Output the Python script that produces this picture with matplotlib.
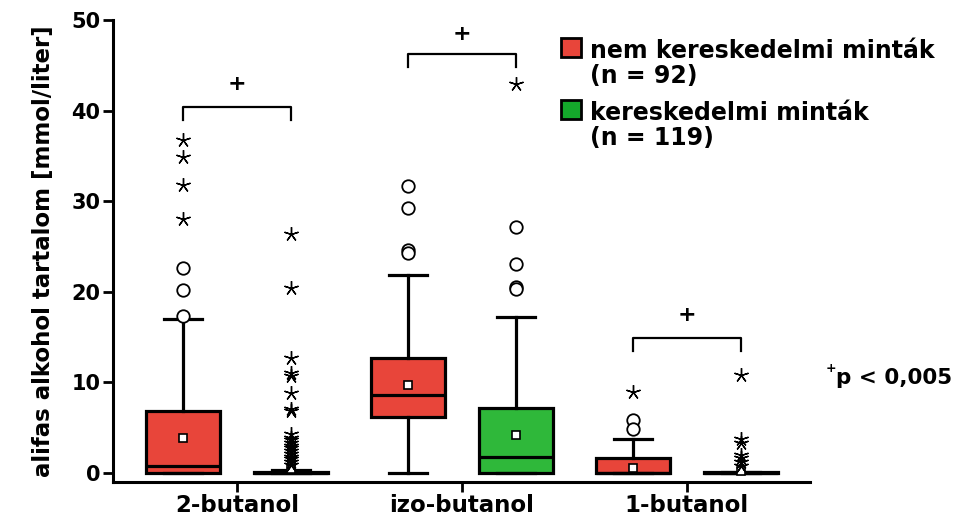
import matplotlib
matplotlib.use("Agg")
import matplotlib.pyplot as plt
from matplotlib.patches import Rectangle

# ---- data ----
groups = ["2-butanol", "izo-butanol", "1-butanol"]
legend_labels = ["nem kereskedelmi minták\n(n = 92)",
                 "kereskedelmi minták\n(n = 119)"]

# nem kereskedelmi minták (n = 92)
red_q1 = [0.0, 6.2, 0.0]
red_med = [0.8, 8.6, 0.0]
red_q3 = [6.8, 12.7, 1.6]
red_lo = [0.0, 0.0, 0.0]
red_hi = [17.0, 21.9, 3.8]
red_mean = [3.9, 9.7, 0.6]
red_circles = [[22.6, 20.2, 17.3], [31.7, 29.2, 24.6, 24.3], [5.8, 4.8]]
red_stars = [[36.8, 34.9, 31.8, 28.0], [], [8.9]]

# kereskedelmi minták (n = 119)
grn_q1 = [0.0, 0.0, 0.0]
grn_med = [0.0, 1.8, 0.0]
grn_q3 = [0.1, 7.2, 0.05]
grn_lo = [0.0, 0.0, 0.0]
grn_hi = [0.35, 17.2, 0.05]
grn_mean = [0.45, 4.2, 0.25]
grn_circles = [[], [27.2, 23.1, 20.5, 20.3], []]
grn_stars = [[26.4, 20.4, 12.7, 11.0, 10.7, 8.8, 7.1, 6.8, 4.3, 3.9, 3.6,
              3.3, 3.0, 2.7, 2.4, 2.1, 1.8, 1.5, 1.2, 0.9],
             [42.9],
             [10.8, 3.7, 3.3, 2.0, 1.6, 1.2, 0.8]]

# significance brackets (+ p < 0,005)
bracket_y = [40.4, 46.2, 14.9]
plus_y = [42.9, 48.5, 17.4]

RED = "#e8453a"
GREEN = "#2fb83a"
LEG_GREEN = "#14a82b"
INK = "black"
FONT = "DejaVu Sans"

plt.rcParams["font.family"] = FONT
plt.rcParams["font.weight"] = "bold"

fig = plt.figure(figsize=(9.56, 5.16), dpi=100)
ax = fig.add_axes([0.1182, 0.0659, 0.729, 0.8953])

off = 0.24
bw = 0.33
pos_r = [i - off for i in range(len(groups))]
pos_g = [i + off for i in range(len(groups))]


def stats(q1, med, q3, lo, hi, mean):
    return [dict(q1=a, med=b, q3=c, whislo=d, whishi=e, mean=f, fliers=[])
            for a, b, c, d, e, f in zip(q1, med, q3, lo, hi, mean)]


def draw(st, pos, color, circles, stars):
    ax.bxp(st, positions=pos, widths=bw, capwidths=0.17, patch_artist=True,
           showmeans=True, showfliers=False,
           boxprops=dict(facecolor=color, edgecolor=INK, linewidth=2.3),
           medianprops=dict(color=INK, linewidth=2.3),
           whiskerprops=dict(color=INK, linewidth=2.3),
           capprops=dict(color=INK, linewidth=2.3),
           meanprops=dict(marker="s", markerfacecolor="white",
                          markeredgecolor=INK, markersize=6,
                          markeredgewidth=1.2))
    for p, c in zip(pos, circles):
        ax.plot([p] * len(c), c, "o", ms=9, mfc="white", mec=INK, mew=1.3,
                clip_on=False, zorder=4)
    for p, s in zip(pos, stars):
        ax.plot([p] * len(s), s, marker=(5, 2), ls="none", ms=10.5, color=INK,
                mew=1.0, clip_on=False, zorder=4)


draw(stats(red_q1, red_med, red_q3, red_lo, red_hi, red_mean), pos_r, RED,
     red_circles, red_stars)
draw(stats(grn_q1, grn_med, grn_q3, grn_lo, grn_hi, grn_mean), pos_g, GREEN,
     grn_circles, grn_stars)

for i in range(len(groups)):
    y = bracket_y[i]
    ax.plot([pos_r[i], pos_r[i], pos_g[i], pos_g[i]], [y - 1.4, y, y, y - 1.4],
            color=INK, lw=1.6, clip_on=False)
    ax.text(i, plus_y[i], "+", ha="center", va="center", fontsize=16,
            fontweight="bold")

ax.set_xlim(-0.551, 2.547)
ax.set_ylim(-1.0, 50)
ax.set_yticks([0, 10, 20, 30, 40, 50])
ax.set_xticks(range(len(groups)))
ax.set_xticklabels(groups, fontsize=16.5, fontweight="bold")
ax.tick_params(axis="y", labelsize=15, length=7, width=2, pad=2)
ax.tick_params(axis="x", length=7, width=2, pad=1.5)
for t in ax.get_yticklabels():
    t.set_fontweight("bold")
for s in ["top", "right"]:
    ax.spines[s].set_visible(False)
for s in ["left", "bottom"]:
    ax.spines[s].set_linewidth(2.2)
ax.set_ylabel("alifas alkohol tartalom [mmol/liter]", fontsize=16.5,
              fontweight="bold", labelpad=12)

# ---- legend (drawn by hand so the swatch sits beside the first line) ----
W, H = 956.0, 516.0
for j, (lab, col) in enumerate(zip(legend_labels, [RED, LEG_GREEN])):
    top = [38, 100][j]
    fig.add_artist(Rectangle((561 / W, 1 - (top + 19) / H), 20 / W, 19 / H,
                             transform=fig.transFigure, facecolor=col,
                             edgecolor=INK, linewidth=2))
    fig.text(590 / W, 1 - (top + 1) / H, lab, ha="left", va="top",
             fontsize=17, fontweight="bold", linespacing=1.05)

fig.text(826 / W, 1 - 375 / H, "+", fontsize=9, fontweight="bold",
         va="bottom")
fig.text(836 / W, 1 - 378 / H, "p < 0,005", fontsize=15.5, fontweight="bold",
         va="center")

fig.savefig("out.png", dpi=100, facecolor="white")
